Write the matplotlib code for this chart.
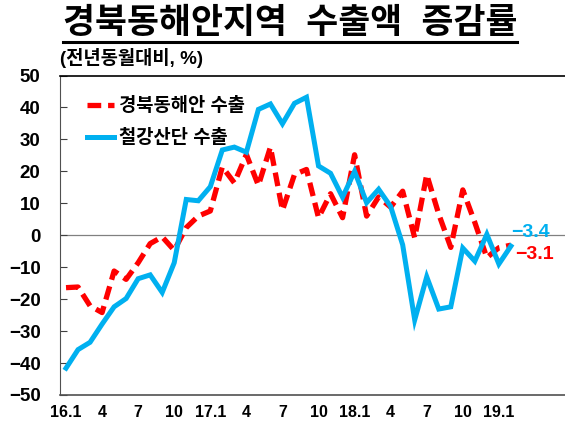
import matplotlib
matplotlib.use('Agg')
import matplotlib.pyplot as plt
import numpy as np
from matplotlib.lines import Line2D

plt.rcParams['font.family'] = ['Liberation Sans', 'Noto Sans CJK KR']
plt.rcParams['axes.unicode_minus'] = True

# monthly, 2016.1 - 2019.2
months = np.arange(38)
coast_exp = [-16.4, -16.2, -22.1, -24.2, -11.2, -13.8, -8.6, -2.6, -0.5, -4.7,
             2.4, 6.0, 7.6, 21.4, 16.4, 25.3, 15.6, 27.6, 7.8, 19.0,
             20.6, 5.5, 13.0, 5.5, 25.2, 6.0, 12.0, 8.8, 13.8, -0.8,
             19.0, 6.6, -3.8, 14.2, 4.0, -7.0, -3.9, -3.1]
steel_exp = [-41.6, -35.8, -33.5, -27.8, -22.4, -19.8, -13.6, -12.4, -17.9, -8.6,
             11.2, 10.8, 15.2, 26.7, 27.6, 26.0, 39.4, 41.1, 34.9, 41.3,
             43.2, 21.7, 19.4, 11.9, 20.0, 10.2, 14.4, 9.0, -3.0, -26.5,
             -13.0, -23.1, -22.4, -4.0, -8.1, 0.3, -9.0, -3.4]
tick_pos = [0, 3, 6, 9, 12, 15, 18, 21, 24, 27, 30, 33, 36]
tick_lbl = ['16.1', '4', '7', '10', '17.1', '4', '7', '10', '18.1', '4', '7', '10', '19.1']

red = '#FF0000'
blue = '#00B0F0'

fig = plt.figure(figsize=(5.65, 4.22), dpi=100)
ax = fig.add_axes([0.1062, 0.064, 0.8938, 0.757])

ax.axhline(0, color='#808080', lw=0.9, zorder=1)
ax.plot(months, coast_exp, color=red, lw=3.8, linestyle=(0, (2.6, 1.3)),
        label='경북동해안 수출', zorder=3)
ax.plot(months, steel_exp, color=blue, lw=3.6, label='철강산단 수출',
        solid_joinstyle='miter', zorder=4)

ax.set_xlim(-0.5, 41.5)
ax.set_ylim(-50, 50)
ax.set_yticks(np.arange(-50, 51, 10))
ax.set_xticks(tick_pos)
ax.set_xticklabels(tick_lbl)
ax.tick_params(axis='y', direction='in', length=5, width=0.8, color='#404040',
               pad=14, labelsize=13.5)
ax.tick_params(axis='x', length=0, pad=7, labelsize=11.5)
for lab in ax.get_xticklabels() + ax.get_yticklabels():
    lab.set_fontweight('bold')

ax.spines['right'].set_visible(False)
ax.spines['top'].set_color('black')
ax.spines['top'].set_linewidth(1.2)
ax.spines['left'].set_color('#505050')
ax.spines['bottom'].set_color('#505050')
ax.spines['bottom'].set_linewidth(1.2)

leg = ax.legend(loc='upper left', bbox_to_anchor=(0.02, 0.985), frameon=False,
                handlelength=1.45, handletextpad=0.25, labelspacing=0.75,
                prop={'weight': 'bold', 'size': 13.5})

ax.annotate('−3.4', xy=(months[-1], steel_exp[-1]), xytext=(0, 10),
            textcoords='offset points', color=blue, fontsize=14,
            fontweight='bold', ha='left', va='center')
ax.annotate('−3.1', xy=(months[-1], coast_exp[-1]), xytext=(3, -7),
            textcoords='offset points', color=red, fontsize=14,
            fontweight='bold', ha='left', va='center')

title = fig.text(0.513, 0.944, '경북동해안지역  수출액  증감률', ha='center', va='center',
                 fontsize=25, fontweight='bold')
fig.text(0.106, 0.862, '(전년동월대비, %)', ha='left', va='center',
         fontsize=13.5, fontweight='bold')

# underline under the title
fig.canvas.draw()
bb = title.get_window_extent(renderer=fig.canvas.get_renderer())
bb = bb.transformed(fig.transFigure.inverted())
fig.add_artist(Line2D([bb.x0, bb.x1], [bb.y0 - 0.004, bb.y0 - 0.004],
                      transform=fig.transFigure, color='black', lw=2.2))

fig.savefig('out.png', dpi=100)
